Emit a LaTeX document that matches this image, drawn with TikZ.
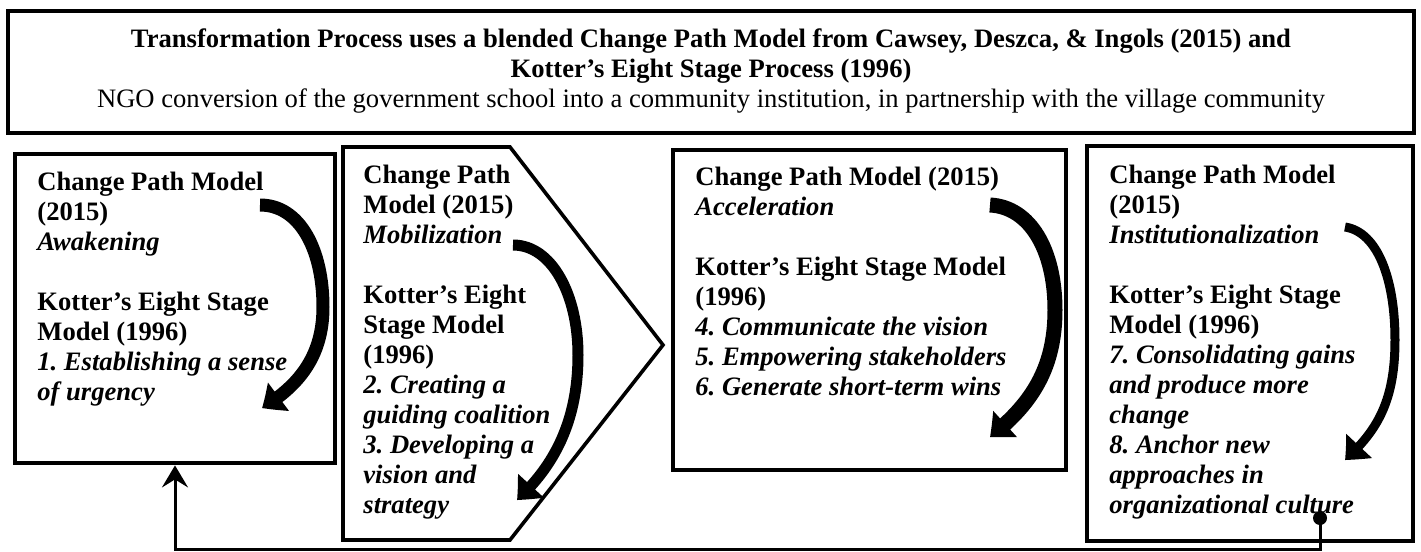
\documentclass[tikz,border=0pt]{standalone}
\usepackage{fontspec}
\setmainfont{Liberation Serif}
\usetikzlibrary{arrows.meta,bending,fit}
\begin{document}
\frenchspacing
\begin{tikzpicture}[x=0.5pt,y=-0.5pt,
  frame/.style={draw, line width=2.4pt, inner sep=0pt},
  txt/.style={anchor=north west, align=left, inner sep=0pt, font=\fontsize{13.3}{15}\selectfont\bfseries},
  curv/.style={line width=#1, -{Triangle[width=17pt,length=10pt,bend]}},
  conn/.style={line width=1.5pt, line cap=rect}]
\useasboundingbox (0,0) rectangle (1421,552);
% title box
\node[frame, fit={(8,11) (1414,133)}] (top) {};
\node[anchor=north, align=center, inner sep=0pt, font=\fontsize{13.3}{15}\selectfont] (title) at (711,26)
  {\strut\textbf{Transformation Process uses a blended Change Path Model from Cawsey, Deszca, \& Ingols (2015) and}\\
   \textbf{Kotter’s Eight Stage Process (1996)}\\
   NGO conversion of the government school into a community institution, in partnership with the village community};
% box 1
\node[frame, fit={(15,154) (335,463)}] (b1) {};
\node[txt] (t1) at (37,169) {\strut Change Path Model\\(2015)\\\itshape Awakening\\[15pt]
  Kotter’s Eight Stage\\Model (1996)\\\itshape 1. Establishing a sense\\\itshape of urgency};
% box 2 (pentagon arrow)
\draw[line width=1.8pt, line join=miter] (343,147) -- (510,147) -- (663,345) -- (510,540) -- (343,540) -- cycle;
\coordinate (b2) at (500,345);
\node[txt] (t2) at (363,162) {\strut Change Path\\Model (2015)\\\itshape Mobilization\\[15pt]
  Kotter’s Eight\\Stage Model\\(1996)\\\itshape 2. Creating a\\\itshape guiding coalition\\\itshape 3. Developing a\\\itshape vision and\\\itshape strategy};
% box 3
\node[frame, fit={(673,150) (1066,470)}] (b3) {};
\node[txt] (t3) at (695,164) {\strut Change Path Model (2015)\\\itshape Acceleration\\[15pt]
  Kotter’s Eight Stage Model\\(1996)\\\itshape 4. Communicate the vision\\\itshape 5. Empowering stakeholders\\\itshape 6. Generate short-term wins};
% box 4
\node[frame, line width=2.2pt, fit={(1087,146) (1413,541)}] (b4) {};
\node[txt] (t4) at (1109,162) {\strut Change Path Model\\(2015)\\\itshape Institutionalization\\[15pt]
  Kotter’s Eight Stage\\Model (1996)\\\itshape 7. Consolidating gains\\\itshape and produce more\\\itshape change\\\itshape 8. Anchor new\\\itshape approaches in\\\itshape organizational culture};
% curved arrows
\draw[curv=6.5pt] (260,205) .. controls (300,205) and (323,250) .. (323,307) .. controls (323,355) and (300,385) .. (262,408);
\draw[curv=5.5pt] (513,245) .. controls (552,245) and (578,295) .. (578,355) .. controls (578,420) and (555,465) .. (517,500);
\draw[curv=7.5pt] (990,205) .. controls (1030,207) and (1055,250) .. (1055,310) .. controls (1055,370) and (1030,405) .. (990,437);
\draw[curv=4.5pt] (1345,227) .. controls (1378,232) and (1395,280) .. (1395,340) .. controls (1395,400) and (1378,430) .. (1345,460);
% feedback connector
\coordinate (dot) at (1320,518);
\coordinate (c1) at (1320,549);
\coordinate (c2) at (b1.south |- c1);
\fill (dot) circle (3.5pt);
\draw[conn, -{Stealth[length=11pt,width=13pt,inset=4pt]}] (dot) -- (c1) -- (c2) -- (b1.south);
\end{tikzpicture}
\end{document}
